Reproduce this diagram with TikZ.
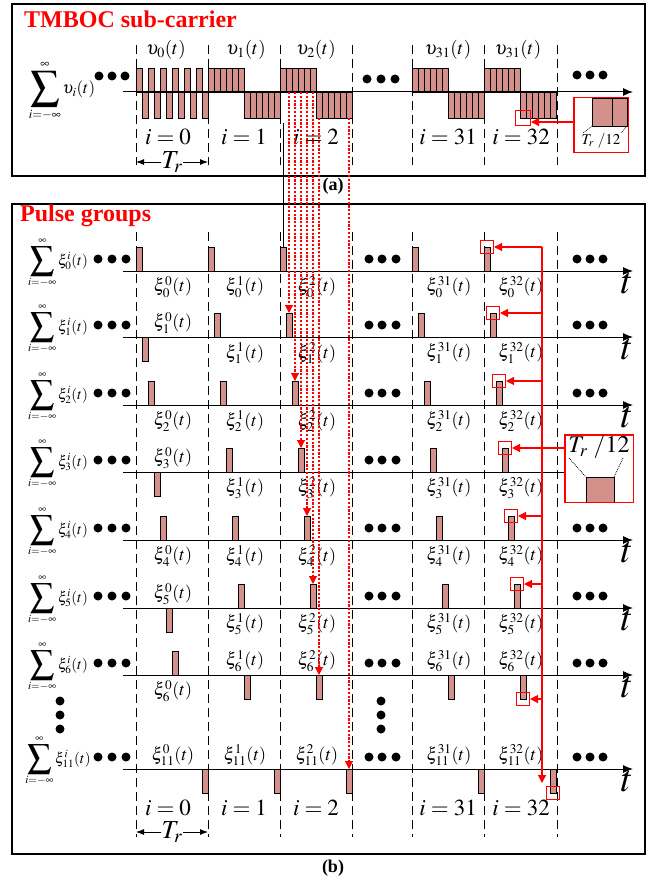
\documentclass[tikz,border=0pt]{standalone}
\usepackage{mathptmx}
\usepackage{fontspec}
\setmainfont{Liberation Serif}
\usetikzlibrary{arrows.meta,calc}
\definecolor{pulse}{RGB}{212,145,140}
\newcommand{\mybigsum}[1]{\mathop{\vcenter{\hbox{\scalebox{#1}{$\displaystyle\sum$}}}}\limits}
\begin{document}
\begin{tikzpicture}[x=1pt,y=-1pt,
  panelbox/.style={draw,line width=1.3pt},
  ttl/.style={text=red,font=\fontsize{24}{26}\selectfont\bfseries,inner sep=0},
  pulsebox/.style={draw,fill=pulse,line width=0.8pt,inner sep=0,outer sep=0,minimum width=6pt,minimum height=24pt},
  wcell/.style={draw,fill=pulse,line width=0.7pt},
  sepline/.style={dash pattern=on 9pt off 5pt,line width=0.9pt},
  taxis/.style={line width=1pt,-{Latex[length=10pt,width=8pt]}},
  lab/.style={font=\fontsize{18}{20}\selectfont,inner sep=0},
  ulab/.style={font=\fontsize{19}{21}\selectfont,inner sep=0},
  ilab/.style={font=\fontsize{23}{25}\selectfont,inner sep=0},
  trlab/.style={font=\fontsize{26}{28}\selectfont,inner sep=0},
  sumlab/.style={font=\fontsize{15}{17}\selectfont,inner sep=0},
  bdot/.style={circle,fill=black,inner sep=0,minimum size=9pt},
  redarr/.style={draw=red,red,line width=1.2pt,-{Triangle[length=8pt,width=8pt]}},
  reddot/.style={draw=red,red,dash pattern=on 2.2pt off 1.6pt,line width=1.1pt,-{Triangle[length=8pt,width=8pt]}},
  rbox/.style={draw=red,line width=1pt,inner sep=0},
  capt/.style={font=\fontsize{18}{20}\selectfont\bfseries,inner sep=0},
  trarr/.style={line width=0.9pt,-{Latex[length=8pt,width=6pt]}}
]
\useasboundingbox (0,0) rectangle (653,880);
% named reference coordinates
\foreach \x [count=\c from 0] in {136,208,280,352,412,484,557} \coordinate (d\c) at (\x,0);
\coordinate (tbot) at (0,118);
\coordinate (vl) at (542,0);
\coordinate (vend) at (542,783);
\coordinate (bl) at (283,123);
\coordinate (tai) at (574,122);

% ================= panel (a) =================
\draw[panelbox] (12,4) rectangle (645,176);
\node[ttl,anchor=west] (t1) at (24,19) {TMBOC sub-carrier};
\foreach \x in {136,208,280,352,412,484,557} \draw[sepline] (\x,45) -- (\x,165);
\foreach \k in {0,...,11}{
  \ifodd\k
    \draw[wcell] ({136+6*\k},92) rectangle ++(6,26);
  \else
    \draw[wcell] ({136+6*\k},92) rectangle ++(6,-24);
  \fi
}
\foreach \s in {208,280,412,484}{
  \foreach \k in {0,...,5} \draw[wcell] ({\s+6*\k},92) rectangle ++(6,-24);
  \foreach \k in {6,...,11} \draw[wcell] ({\s+6*\k},92) rectangle ++(6,26);
}
\coordinate (ta0) at (123,92);
\coordinate (ta1) at (633,92);
\draw[taxis] (ta0) -- (ta1);
\foreach \x/\n [count=\c] in {166/0,246/1,316/2,448/31,518/31}
  \node[ulab] (u\c) at (\x,50) {$\upsilon_{\n}(t)$};
\foreach \x/\n [count=\c] in {168/0,244/1,316/2,448/31,521/32}
  \node[ilab] (ia\c) at (\x,137) {$i=\n$};
\node[trlab] (tra) at (172,162) {$T_r$};
\draw[trarr] (tra.west) -- (tra.west -| d0);
\draw[trarr] (tra.east) -- (tra.east -| d1);
\node[font=\fontsize{17}{19}\selectfont,inner sep=0] (sa) at (62,91) {$\mybigsum{1.7}_{\scriptstyle i=-\infty}^{\scriptstyle\infty}\upsilon_i(t)$};
\foreach \x/\y [count=\c] in {99/76,112/76,125/76,367/79,381/79,395/79,577/75,590/75,603/75}
  \node[bdot] (td\c) at (\x,\y) {};
% zoom box (a)
\node[rbox,fill=white,minimum width=54pt,minimum height=54pt] (tbig) at (601,125) {};
\draw[wcell] (592,98) rectangle (612,126);
\draw[wcell] (612,98) rectangle (627,126);
\draw[densely dotted,line width=0.7pt] (592,126) -- (583,133);
\draw[densely dotted,line width=0.7pt] (627,126) -- (621,133);
\node[font=\fontsize{15}{17}\selectfont,inner sep=0] (tbl) at (601,141) {$T_r\ /12$};
\draw[red,line width=1pt] (tbig.north west) rectangle (tbig.south east);
\node[rbox,minimum size=15pt] (tb) at (523,118) {};
\draw[redarr] (tai) -- (tai -| tb.east);
\node[capt] (ca) at (333,186) {(a)};

% ================= panel (b) =================
\draw[panelbox] (12,204) rectangle (645,854);
\node[ttl,anchor=west] (t2) at (20,216) {Pulse groups};
\foreach \x in {136,208,280,352,412,484,557} \draw[sepline] (\x,232) -- (\x,837);
\foreach \k/\y in {0/271,1/337,2/405,3/472,4/540,5/608,6/675,11/769}{
  \draw[taxis] (123,\y) -- (633,\y);
  \node[inner sep=0,font=\fontsize{38}{40}\selectfont,anchor=north] (tl\k) at (627,\y+2) {$t$};
  \node[sumlab] (s\k) at (58,\y-8) {$\mybigsum{1.6}_{\scriptstyle i=-\infty}^{\scriptstyle\infty}\xi_{\k}^{i}(t)$};
  \foreach \x [count=\c] in {98,112,126,369,382,396,577,590,603}
    \node[bdot] (dd\k-\c) at (\x,\y-12) {};
  \foreach \i/\s in {0/136,1/208,2/280,31/412,32/484}{
    \pgfmathsetmacro{\up}{ifthenelse(\i==0,ifthenelse(mod(\k,2)==0,1,-1),ifthenelse(\k<6,1,-1))}
    \pgfmathsetmacro{\ly}{\y+ifthenelse(\up>0,16,-14)}
    \node[pulsebox] (p\k-\i) at ({\s+6*\k+3},{\y-12*\up}) {};
    \node[lab] (l\k-\i) at ({\s+37},\ly) {$\xi_{\k}^{\i}(t)$};
  }
}
\foreach \y [count=\c] in {701,715,729}{
  \node[bdot] (vd\c) at (60,\y) {};
  \node[bdot] (ve\c) at (381,\y) {};
}
\foreach \x/\n [count=\c] in {168/0,244/1,316/2,448/31,521/32}
  \node[ilab] (ib\c) at (\x,808) {$i=\n$};
\node[trlab] (trb) at (172,832) {$T_r$};
\draw[trarr] (trb.west) -- (trb.west -| d0);
\draw[trarr] (trb.east) -- (trb.east -| d1);

% links from (a) to (b)
\draw[line width=0.8pt] (bl) -- (p0-2.north);
\foreach \k in {1,...,5} \draw[reddot] (p\k-2.north |- ta0) -- (p\k-2.north);
\foreach \k in {6,11} \draw[reddot] (p\k-2.north |- tbot) -- (p\k-2.north);

% red markers on i=32
\foreach \k in {0,...,5} \node[rbox,minimum size=13pt] (b\k) at (p\k-32.north) {};
\foreach \k in {6,11} \node[rbox,minimum size=13pt] (b\k) at (p\k-32.south) {};
\draw[redarr] (b0.east -| vl) -- (vend);
\foreach \k in {0,1,2,4,5,6} \draw[redarr] (b\k.east -| vl) -- (b\k.east);
% zoom box (b)
\node[rbox,fill=white,minimum width=68pt,minimum height=67pt] (bbig) at (599,468.5) {};
\node[inner sep=0,font=\fontsize{24}{26}\selectfont] (bbl) at (599,447) {$T_r\ /12$};
\draw[wcell] (586,477) rectangle (614,502);
\draw[densely dotted,line width=0.8pt] (569,458) -- (586,477);
\draw[densely dotted,line width=0.8pt] (623,458) -- (614,477);
\draw[red,line width=1pt] (bbig.north west) rectangle (bbig.south east);
\draw[redarr] (bbig.west |- b3.east) -- (b3.east);
\node[capt] (cb) at (333,868) {(b)};
\end{tikzpicture}
\end{document}
